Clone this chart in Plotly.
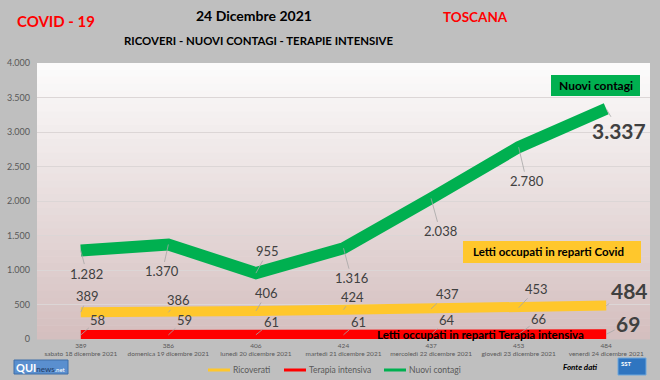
import plotly.graph_objects as go

# ---------------- data ----------------
dates = ["sabato 18 dicembre 2021", "domenica 19 dicembre 2021", "lunedì 20 dicembre 2021",
         "martedì 21 dicembre 2021", "mercoledì 22 dicembre 2021", "giovedì 23 dicembre 2021",
         "venerdì 24 dicembre 2021"]
ricoverati = [389, 386, 406, 424, 437, 453, 484]
terapia_intensiva = [58, 59, 61, 61, 64, 66, 69]
nuovi_contagi = [1282, 1370, 955, 1316, 2038, 2780, 3337]
y_ticks = [0, 500, 1000, 1500, 2000, 2500, 3000, 3500, 4000]
series_names = ["Ricoverati", "Terapia intensiva", "Nuovi contagi"]

# label offsets (pixels) for data labels
off_green = [(6, 23), (-6, 27), (12, -22), (8, 30), (9, 33), (8, 34), (13, 22)]
off_yellow = [(7, -16), (10, -12), (11, -18), (9, -13), (16, -15), (18, -19), (23, -15)]
off_red = [(17, -15), (16, -15), (16, -13), (15, -13), (16, -15), (20, -15), (22, -11)]

W, H = 660, 380
L, R, T, B = 37, 650, 63, 339  # plot area in pixels


def px(x):
    return (x - L) / (R - L)


def py(y):
    return (B - y) / (B - T)


def it(v):
    return f"{v:,}".replace(",", ".")


GREEN = "#00b050"
YELLOW = "#ffc72c"
RED = "#ff0000"
FONT = "Lato, Open Sans, sans-serif"
xs = list(range(len(dates)))
colors = [YELLOW, RED, GREEN]

fig = go.Figure()
fig.add_trace(go.Scatter(x=xs, y=terapia_intensiva, mode="lines", line=dict(color=RED, width=10),
                         name=series_names[1], showlegend=False, hoverinfo="skip"))
fig.add_trace(go.Scatter(x=xs, y=ricoverati, mode="lines", line=dict(color=YELLOW, width=10),
                         name=series_names[0], showlegend=False, hoverinfo="skip"))
fig.add_trace(go.Scatter(x=xs, y=nuovi_contagi, mode="lines", line=dict(color=GREEN, width=12),
                         name=series_names[2], showlegend=False, hoverinfo="skip"))

shapes = []
# gradient plot background
N = 40
top = (252, 252, 252)
bot = (212, 190, 190)
for i in range(N):
    t = (i + 0.5) / N
    c = tuple(round(top[k] + (bot[k] - top[k]) * t) for k in range(3))
    shapes.append(dict(type="rect", xref="paper", yref="paper", x0=0, x1=1,
                       y0=1 - (i + 1) / N - 0.002, y1=1 - i / N,
                       fillcolor=f"rgb{c}", line=dict(width=0), layer="below"))

annotations = []


def note(x, y, text, size, color="#000", **kw):
    d = dict(x=px(x), y=py(y), xref="paper", yref="paper", showarrow=False,
             xanchor="center", yanchor="middle", text=text,
             font=dict(family=FONT, size=size, color=color))
    d.update(kw)
    annotations.append(d)


# data labels
def add_labels(vals, offs, last_size):
    for i, v in enumerate(vals):
        last = i == len(vals) - 1
        annotations.append(dict(
            x=xs[i], y=v, xref="x", yref="y", text=(f"<b>{it(v)}</b>" if last else it(v)),
            showarrow=True, ax=offs[i][0], ay=offs[i][1], arrowhead=0, arrowwidth=0.8,
            arrowcolor="#a6a6a6", standoff=0,
            font=dict(family=FONT, size=(last_size if last else 13), color="#404040")))


add_labels(nuovi_contagi, off_green, 21)
add_labels(ricoverati, off_yellow, 21)
add_labels(terapia_intensiva, off_red, 21)

# boxes
shapes.append(dict(type="rect", xref="paper", yref="paper", x0=px(551), x1=px(640), y0=py(96), y1=py(75),
                   fillcolor=GREEN, line=dict(width=0)))
note(595.5, 85.5, "<b>Nuovi contagi</b>", 12)
shapes.append(dict(type="rect", xref="paper", yref="paper", x0=px(463), x1=px(641), y0=py(263), y1=py(241),
                   fillcolor=YELLOW, line=dict(width=0)))
note(548, 252, "<b>Letti occupati in reparti Covid</b>", 11.5)
note(480, 334.5, "<b>Letti occupati in reparti Terapia intensiva</b>", 11.5)

# titles
note(56, 21, "<b>COVID - 19</b>", 15, RED)
note(254, 16, "<b>24 Dicembre 2021</b>", 14)
note(259, 40, "<b>RICOVERI - NUOVI CONTAGI - TERAPIE INTENSIVE</b>", 11.4)
note(475, 17, "<b>TOSCANA</b>", 13.5, RED)
note(580, 367, "<b><i>Fonte dati</i></b>", 8)

# manual legend (compact, as in the reference)
leg_x = [208, 284, 384]
for name, col, lx in zip(series_names, colors, leg_x):
    shapes.append(dict(type="line", xref="paper", yref="paper", x0=px(lx), x1=px(lx + 22),
                       y0=py(370), y1=py(370), line=dict(color=col, width=3)))
    note(lx + 23, 370, name, 8.5, "#595959", xanchor="left")

# logos
shapes.append(dict(type="rect", xref="paper", yref="paper", x0=px(14), x1=px(68), y0=py(374), y1=py(360),
                   fillcolor="#5a8fcf", line=dict(color="#3f6fa8", width=1)))
note(41, 367, "<b>QUI</b><span style='font-size:8px;color:#1f3b63'>news</span>"
              "<span style='font-size:6px'>.net</span>", 11, "#fff")
shapes.append(dict(type="rect", xref="paper", yref="paper", x0=px(618), x1=px(646), y0=py(375), y1=py(358),
                   fillcolor="#2f75c0", line=dict(color="#6fa8dc", width=1)))
note(626, 363, "<b>SST</b>", 6, "#fff")

fig.update_layout(
    width=W, height=H,
    margin=dict(l=L, r=W - R, t=T, b=H - B, autoexpand=False),
    paper_bgcolor="#bfbfbf", plot_bgcolor="#f4eeee",
    separators=",.",
    font=dict(family=FONT, color="#595959"),
    shapes=shapes, annotations=annotations,
    showlegend=False,
    xaxis=dict(range=[-0.5, 6.5], tickvals=xs,
               ticktext=[f"{r}<br>{d}" for r, d in zip(ricoverati, dates)],
               showgrid=False, zeroline=False, showline=False, ticks="", ticklabelstandoff=1,
               tickfont=dict(size=6.5, color="#595959"), fixedrange=True, automargin=False),
    yaxis=dict(range=[0, 4000], tickvals=y_ticks, tickformat=",d",
               showgrid=True, gridcolor="#dcd6d6", gridwidth=1, zeroline=False, showline=False,
               ticks="", ticklabelstandoff=6, automargin=False,
               tickfont=dict(size=9, color="#595959"), fixedrange=True),
)

fig.write_html("out.html", config={"displayModeBar": False},
               post_script="document.body.style.margin='0';document.body.style.overflow='hidden';")
